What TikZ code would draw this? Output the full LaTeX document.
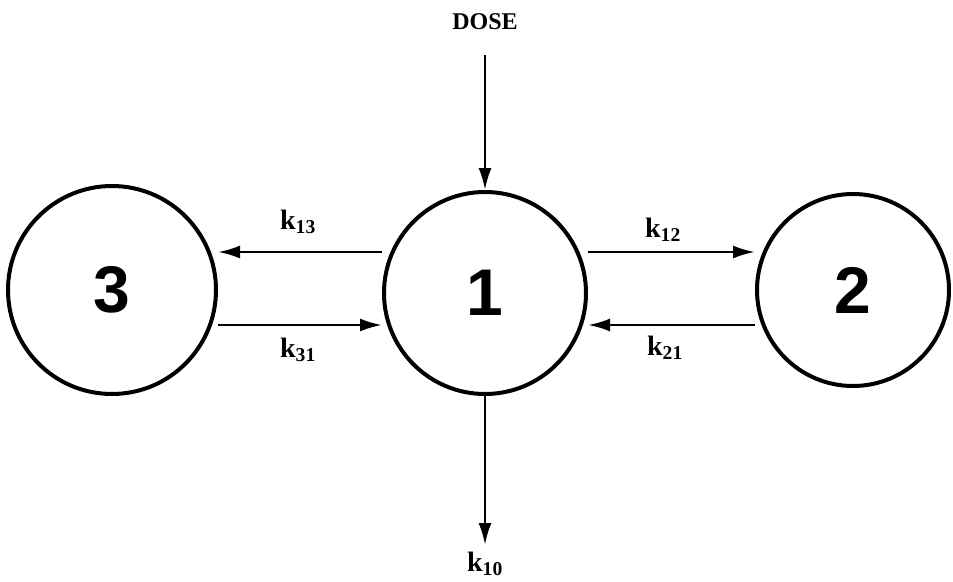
\documentclass[tikz,border=0pt]{standalone}
\usepackage{fontspec}
\setmainfont{Liberation Serif}
\newfontfamily\numfont{Liberation Sans}
\usetikzlibrary{arrows.meta}
\begin{document}
\begin{tikzpicture}[x=1pt,y=-1pt,
  comp/.style={circle,draw,line width=4pt,inner sep=0pt,font=\numfont\bfseries\fontsize{66}{66}\selectfont},
  flow/.style={line width=2.6pt,-{Latex[length=22pt,width=13pt]}},
  lab/.style={font=\bfseries\fontsize{28}{28}\selectfont}]
\useasboundingbox (0,0) rectangle (953,581);
\node[comp,minimum size=208pt] (c3) at (112,290) {3};
\node[comp,minimum size=202pt] (c1) at (485,293) {1};
\node[comp,minimum size=192pt] (c2) at (853,290) {2};
\node[font=\bfseries\fontsize{24}{24}\selectfont] (dose) at (485,22) {DOSE};
\coordinate (dtop) at (485,55);
\node[lab] (k10) at (485,564) {k$_{\mathbf{10}}$};
\coordinate (k10top) at (485,545);
\draw[flow] (dtop) -- (c1.north);
\draw[flow] (c1.south) -- (k10top);
\draw[flow] (c1.west |- 0,252) -- (c3.east |- 0,252);
\draw[flow] (c3.east |- 0,325) -- (c1.west |- 0,325);
\draw[flow] (c1.east |- 0,252) -- (c2.west |- 0,252);
\draw[flow] (c2.west |- 0,325) -- (c1.east |- 0,325);
\node[lab] (k13) at (298,222) {k$_{\mathbf{13}}$};
\node[lab] (k31) at (298,350) {k$_{\mathbf{31}}$};
\node[lab] (k12) at (663,230) {k$_{\mathbf{12}}$};
\node[lab] (k21) at (665,348) {k$_{\mathbf{21}}$};
\end{tikzpicture}
\end{document}
